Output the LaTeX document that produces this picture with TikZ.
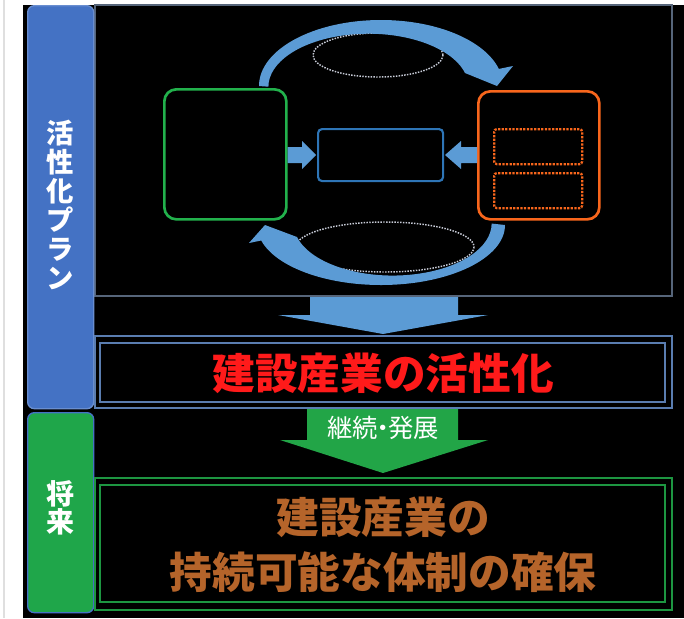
\documentclass[tikz,border=0pt]{standalone}
\usepackage{fontspec}
\newfontfamily\jp{Noto Sans CJK JP}
\begin{document}
\begin{tikzpicture}[x=0.75pt,y=-0.75pt,
  sidetxt/.style={text=white,align=center,font=\jp\bfseries\fontsize{20.5}{21.75}\selectfont},
  rbox/.style={rounded corners=9pt,line width=2pt,fill=black},
  dotbox/.style={draw=orangeC,densely dotted,line width=1.7pt,rounded corners=2pt},
  ell/.style={draw=ellC,densely dotted,line width=1.1pt},
  bigtxt/.style={font=\jp\bfseries\fontsize{32}{41}\selectfont,align=center}]
\definecolor{blueSide}{HTML}{4472C4}
\definecolor{greenSide}{HTML}{1FA64A}
\definecolor{arrowB}{HTML}{5B9BD5}
\definecolor{arrowG}{HTML}{22A547}
\definecolor{greenC}{HTML}{22B14C}
\definecolor{orangeC}{HTML}{F8661C}
\definecolor{midB}{HTML}{2E75B6}
\definecolor{panelC}{HTML}{56657A}
\definecolor{actC}{HTML}{5A7DB0}
\definecolor{redT}{HTML}{FF1A1A}
\definecolor{brownT}{HTML}{B5642A}
\definecolor{ellC}{HTML}{C8CCD8}
\useasboundingbox (0,0) rectangle (684,618);
\fill[white] (0,0) rectangle (684,618);
\draw[gray!25,line width=1.5pt] (4,0) -- (4,618);
\fill[black] (23,5) rectangle (684,618);
% top panel
\draw[panelC,line width=1.2pt] (95,5) rectangle (672,296);
% sidebars
\node[draw=blueSide!80!white,fill=blueSide,line width=1pt,rounded corners=5pt,minimum width=66*0.75pt,minimum height=403*0.75pt,anchor=north west] (side1) at (27,5) {};
\node[draw=blueSide,fill=greenSide,line width=1pt,rounded corners=5pt,minimum width=66*0.75pt,minimum height=200*0.75pt,anchor=north west] (side2) at (27,412) {};
\node[sidetxt] (t1) at (60,205) {活\\性\\化\\プ\\ラ\\ン};
\node[sidetxt,font=\jp\bfseries\fontsize{21}{21}\selectfont] (t2) at (60,508) {将\\来};
% ellipses
\draw[ell] (378,55) ellipse [x radius=65, y radius=22];
\draw[ell] (385,247) ellipse [x radius=89, y radius=25];
% circular arrows
\fill[arrowB] (259,86) arc[start angle=180,end angle=345,x radius=122,y radius=66]
  -- (513,66) -- (497,86) -- (465,73)
  arc[start angle=345,end angle=180,x radius=100,y radius=53] -- cycle;
\fill[arrowB] (505,225) arc[start angle=0,end angle=165,x radius=124,y radius=60]
  -- (249,243) -- (265,225) -- (297,237)
  arc[start angle=165,end angle=0,x radius=99,y radius=52] -- cycle;
% boxes
\node[rbox,draw=greenC,minimum width=122*0.75pt,minimum height=130*0.75pt,anchor=north west] (gbox) at (163,88) {};
\node[rbox,draw=orangeC,minimum width=121*0.75pt,minimum height=128*0.75pt,anchor=north west] (obox) at (477,90) {};
\node[draw=midB,line width=1.6pt,rounded corners=3pt,fill=black,minimum width=125*0.75pt,minimum height=52*0.75pt,anchor=north west] (mbox) at (317,128) {};
\node[dotbox,minimum width=88*0.75pt,minimum height=35*0.75pt,anchor=north west] (d1) at (493,128) {};
\node[dotbox,minimum width=88*0.75pt,minimum height=35*0.75pt,anchor=north west] (d2) at (493,172) {};
% small arrows
\fill[arrowB] (gbox.east |- 0,147) -- (302,147) -- (302,141) -- (316,155) -- (302,169) -- (302,163) -- (gbox.east |- 0,163) -- cycle;
\fill[arrowB] (obox.west |- 0,147) -- (461,147) -- (461,141) -- (445,155) -- (461,169) -- (461,163) -- (obox.west |- 0,163) -- cycle;
% big blue arrow
\fill[arrowB] (310,297) -- (458,297) -- (458,315) -- (488,315) -- (383,334) -- (278,315) -- (310,315) -- cycle;
% activation box
\draw[actC,line width=1.6pt] (95,336) rectangle (672,408);
\draw[actC,line width=1.6pt] (100,343) rectangle (665,402);
\node[bigtxt,text=redT] (act) at (383,373) {建設産業の活性化};
% green arrow
\fill[arrowG] (307,409) -- (458,409) -- (458,440) -- (488,440) -- (383,473) -- (280,440) -- (307,440) -- cycle;
\node[text=white,font=\jp\fontsize{19}{20}\selectfont] (cont) at (383,428) {継続\kern-0.3em・\kern-0.3em発展};
% future box
\draw[greenC!85!black,line width=1.6pt] (95,478) rectangle (672,610);
\draw[greenC!85!black,line width=1.6pt] (100,485) rectangle (665,602);
\node[bigtxt,text=brownT] (fut) at (383,545) {建設産業の\\持続可能な体制の確保};
\end{tikzpicture}
\end{document}
